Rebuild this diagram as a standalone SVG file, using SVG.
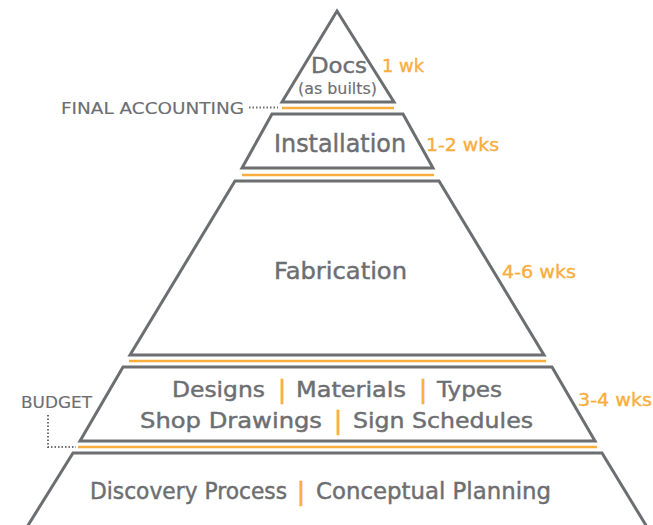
<svg xmlns="http://www.w3.org/2000/svg" width="653" height="525" viewBox="0 0 653 525">
<style>
.shape{fill:none;stroke:#6d6e71;stroke-width:3;stroke-linejoin:miter}
.bar{stroke:#f9ad3c;stroke-width:2.5}
.lbl{font-family:"DejaVu Sans","Liberation Sans",sans-serif;fill:#6d6e71;stroke:#6d6e71;stroke-width:0.45}
.small{font-family:"DejaVu Sans","Liberation Sans",sans-serif;fill:#6d6e71;stroke:#6d6e71;stroke-width:0.15}
.dur{font-family:"DejaVu Sans","Liberation Sans",sans-serif;fill:#f9ad3c;stroke:#f9ad3c;stroke-width:0.35}
.sep{font-family:"DejaVu Sans","Liberation Sans",sans-serif;fill:#f9ad3c;stroke:#f9ad3c;stroke-width:0.6;text-anchor:middle}
.lead{fill:none;stroke:#6d6e71;stroke-width:2;stroke-dasharray:1.5 2}
</style>
<rect width="653" height="525" fill="#ffffff"/>
<g id="docs">
<polygon class="shape" points="337,11 394,102 282,102"/>
<line class="bar" x1="282" y1="108" x2="394" y2="108"/>
<text class="lbl" x="311" y="73" font-size="22" textLength="56" lengthAdjust="spacingAndGlyphs">Docs</text>
<text class="small" x="298" y="94" font-size="15" textLength="79" lengthAdjust="spacingAndGlyphs">(as builts)</text>
<text class="dur" x="382" y="72" font-size="17" textLength="42" lengthAdjust="spacingAndGlyphs">1 wk</text>
</g>
<g id="installation">
<polygon class="shape" points="272,114 403,114 433,168 242,168"/>
<line class="bar" x1="242" y1="175" x2="434" y2="175"/>
<text class="lbl" x="274" y="152" font-size="24" textLength="132" lengthAdjust="spacingAndGlyphs">Installation</text>
<text class="dur" x="426" y="151" font-size="18" textLength="73" lengthAdjust="spacingAndGlyphs">1-2 wks</text>
</g>
<g id="fabrication">
<polygon class="shape" points="235,181 439,181 544,355 130,355"/>
<line class="bar" x1="129" y1="361" x2="546" y2="361"/>
<text class="lbl" x="274" y="279" font-size="23" textLength="133" lengthAdjust="spacingAndGlyphs">Fabrication</text>
<text class="dur" x="502" y="278" font-size="18" textLength="74" lengthAdjust="spacingAndGlyphs">4-6 wks</text>
</g>
<g id="design">
<polygon class="shape" points="123,367 552,367 595,441 80,441"/>
<line class="bar" x1="78" y1="447" x2="597" y2="447"/>
<text class="lbl" x="172" y="397" font-size="22" textLength="93" lengthAdjust="spacingAndGlyphs">Designs</text>
<text class="sep" x="282" y="398" font-size="24">|</text>
<text class="lbl" x="296" y="397" font-size="22" textLength="110" lengthAdjust="spacingAndGlyphs">Materials</text>
<text class="sep" x="423" y="398" font-size="24">|</text>
<text class="lbl" x="437" y="397" font-size="22" textLength="65" lengthAdjust="spacingAndGlyphs">Types</text>
<text class="lbl" x="140" y="428" font-size="22" textLength="182" lengthAdjust="spacingAndGlyphs">Shop Drawings</text>
<text class="sep" x="338" y="429" font-size="24">|</text>
<text class="lbl" x="353" y="428" font-size="22" textLength="180" lengthAdjust="spacingAndGlyphs">Sign Schedules</text>
<text class="dur" x="578" y="406" font-size="18" textLength="74" lengthAdjust="spacingAndGlyphs">3-4 wks</text>
</g>
<g id="discovery">
<polyline class="shape" points="27,527 73,453 602,453 647,527"/>
<text class="lbl" x="90" y="499" font-size="23" textLength="197" lengthAdjust="spacingAndGlyphs">Discovery Process</text>
<text class="sep" x="301" y="500" font-size="25">|</text>
<text class="lbl" x="316" y="499" font-size="23" textLength="235" lengthAdjust="spacingAndGlyphs">Conceptual Planning</text>
</g>
<g id="final-accounting">
<text class="small" x="61" y="114" font-size="16" textLength="183" lengthAdjust="spacingAndGlyphs">FINAL ACCOUNTING</text>
</g>
<g id="budget">
<text class="small" x="21" y="408" font-size="16" textLength="71" lengthAdjust="spacingAndGlyphs">BUDGET</text>
</g>
<g id="connectors">
<line class="lead" x1="249" y1="107.5" x2="278" y2="107.5"/>
<polyline class="lead" points="48,415 48,447 76,447"/>
</g>
</svg>
